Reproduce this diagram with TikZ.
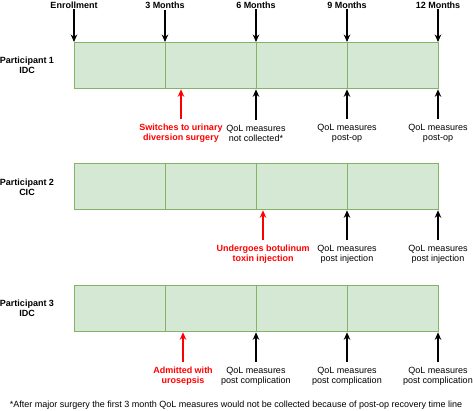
\documentclass[tikz,border=0pt]{standalone}
\usepackage{fontspec}
\setmainfont{Liberation Sans}
\usetikzlibrary{arrows.meta,positioning}
\definecolor{cellfill}{HTML}{D5E8D4}
\definecolor{celldraw}{HTML}{82B366}

\begin{document}
\begin{tikzpicture}[x=1pt,y=-1pt,
	cell/.style={draw=celldraw,fill=cellfill,line width=1.3pt,minimum width=91pt,minimum height=46pt,anchor=north west,inner sep=0pt},
	head/.style={font=\fontsize{9}{10}\selectfont\bfseries,align=center,inner sep=1pt},
	note/.style={font=\fontsize{9}{10}\selectfont,align=center,inner sep=4.5pt},
	event/.style={note,text=red,font=\fontsize{9}{10}\selectfont\bfseries},
	arr/.style={-{Stealth[length=7.5pt,width=6.5pt]},line width=1.1pt}]
	\useasboundingbox (0,0) rectangle (473,411);
	% three bars of four cells
	\foreach \r/\y in {1/42,2/163,3/285}{
		\foreach \c in {1,...,4}
			\node[cell] (c\r\c) at ({74+91*(\c-1)},\y) {};
	}
	\node[head] (p1) at (27,65) {Participant 1\\IDC};
	\node[head] (p2) at (27,187) {Participant 2\\CIC};
	\node[head] (p3) at (27,308) {Participant 3\\IDC};
	% time points
	\foreach \i/\x/\t in {0/74/Enrollment,1/165/3 Months,2/256/6 Months,3/347/9 Months,4/438/12 Months}{
		\node[head] (m\i) at (\x,5) {\t};
		\draw[arr] (m\i.south) -- (m\i.south |- c11.north);
	}
	% participant 1
	\node[event] (e1) at (181,133) {Switches to urinary\\diversion surgery};
	\node[note] (q12) at (256,133) {QoL measures\\not collected*};
	\node[note] (q13) at (347,133) {QoL measures\\post-op};
	\node[note] (q14) at (438,133) {QoL measures\\post-op};
	\draw[arr,red] (e1.north) -- (e1.north |- c11.south);
	\foreach \q in {q12,q13,q14}
		\draw[arr] (\q.north) -- (\q.north |- c11.south);
	% participant 2
	\node[event] (e2) at (263,254) {Undergoes botulinum\\toxin injection};
	\node[note] (q23) at (347,254) {QoL measures\\post injection};
	\node[note] (q24) at (438,254) {QoL measures\\post injection};
	\draw[arr,red] (e2.north) -- (e2.north |- c21.south);
	\foreach \q in {q23,q24}
		\draw[arr] (\q.north) -- (\q.north |- c21.south);
	% participant 3
	\node[event] (e3) at (183,376) {Admitted with\\urosepsis};
	\node[note] (q32) at (256,376) {QoL measures\\post complication};
	\node[note] (q33) at (347,376) {QoL measures\\post complication};
	\node[note] (q34) at (438,376) {QoL measures\\post complication};
	\draw[arr,red] (e3.north) -- (e3.north |- c31.south);
	\foreach \q in {q32,q33,q34}
		\draw[arr] (\q.north) -- (\q.north |- c31.south);
	\node[note,inner sep=1pt] (fn) at (236,405) {*After major surgery the first 3 month QoL measures would not be collected because of post-op recovery time line};
\end{tikzpicture}
\end{document}
